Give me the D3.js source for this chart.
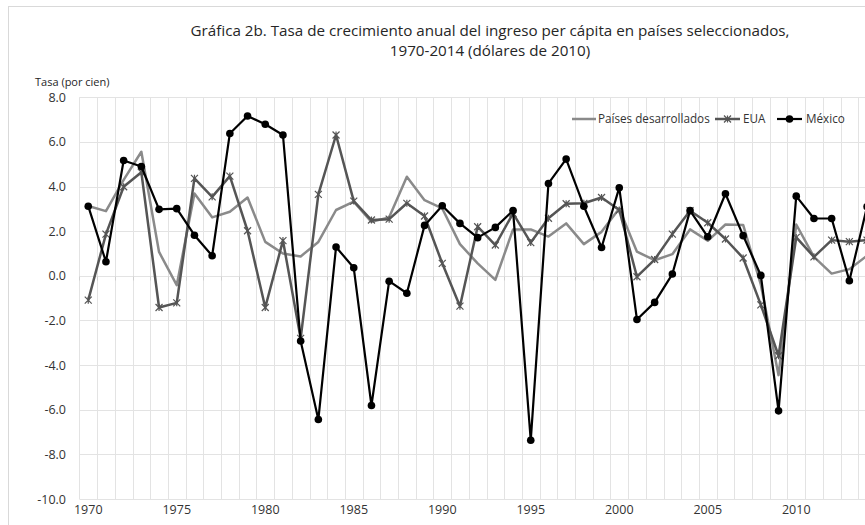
<!DOCTYPE html>
<html>
<head>
<meta charset="utf-8">
<script src="https://cdn.jsdelivr.net/npm/d3@7/dist/d3.min.js"></script>
<style>
  body { margin: 0; background: #fff; }
  svg { display: block; }
</style>
</head>
<body>
<div id="chart"></div>
<script>
var years = d3.range(1970, 2015);

var desarrollados = [3.13, 2.9, 4.3, 5.56, 1.07, -0.42, 3.69, 2.62, 2.87, 3.51,
    1.52, 1.0, 0.87, 1.52, 2.95, 3.32, 2.42, 2.62, 4.44, 3.39,
    3.02, 1.42, 0.56, -0.18, 2.08, 2.08, 1.76, 2.35, 1.42, 1.97,
    3.02, 1.08, 0.7, 0.97, 2.08, 1.57, 2.3, 2.28, -0.4, -4.45,
    2.3, 0.85, 0.1, 0.3, 0.9];

var eua = [-1.09, 1.87, 3.99, 4.64, -1.42, -1.21, 4.37, 3.54, 4.47, 2.02,
    -1.42, 1.58, -2.8, 3.65, 6.31, 3.35, 2.5, 2.54, 3.25, 2.68,
    0.56, -1.36, 2.2, 1.38, 2.8, 1.49, 2.58, 3.23, 3.25, 3.51,
    2.95, -0.04, 0.73, 1.87, 2.92, 2.38, 1.65, 0.8, -1.3, -3.58,
    1.72, 0.85, 1.6, 1.53, 1.6];

var mexico = [3.12, 0.63, 5.17, 4.9, 2.98, 3.01, 1.82, 0.9, 6.38, 7.16,
    6.79, 6.31, -2.92, -6.44, 1.29, 0.36, -5.81, -0.24, -0.78, 2.26,
    3.14, 2.35, 1.71, 2.17, 2.92, -7.37, 4.14, 5.23, 3.12, 1.27,
    3.95, -1.96, -1.19, 0.08, 2.92, 1.75, 3.68, 1.8, 0.02, -6.05,
    3.57, 2.57, 2.57, -0.22, 3.1];

var yTicks = d3.range(-10, 8.1, 2);
var xLabels = [1970, 1975, 1980, 1985, 1990, 1995, 2000, 2005, 2010];

var width = 865, height = 525;
var svg = d3.select('#chart').append('svg')
    .attr('width', width)
    .attr('height', height)
    .style('font-family', "'Open Sans', sans-serif");

// outer frame
svg.append('rect')
    .attr('x', 8.5).attr('y', 6.5)
    .attr('width', 900).attr('height', 540)
    .attr('fill', 'none')
    .attr('stroke', '#d9d9d9');

var plotLeft = 79.4, step = 17.7;
var x = d3.scaleBand()
    .domain(years)
    .range([plotLeft, plotLeft + years.length * step]);
var y = d3.scaleLinear().domain([-10, 8]).range([499, 97.3]);
var cx = function(yr){ return x(yr) + x.bandwidth() / 2; };

// horizontal grid
svg.append('g').selectAll('line')
    .data(yTicks).enter().append('line')
    .attr('x1', x.range()[0]).attr('x2', x.range()[1])
    .attr('y1', function(d){ return Math.round(y(d)) + 0.5; })
    .attr('y2', function(d){ return Math.round(y(d)) + 0.5; })
    .attr('stroke', '#e3e3e3');

// vertical grid at category boundaries
var bounds = years.map(function(d){ return x(d); }).concat([x.range()[1]]);
svg.append('g').selectAll('line')
    .data(bounds).enter().append('line')
    .attr('x1', function(d){ return Math.round(d) + 0.5; })
    .attr('x2', function(d){ return Math.round(d) + 0.5; })
    .attr('y1', y(8)).attr('y2', y(-10))
    .attr('stroke', '#e3e3e3');

// small ticks on the zero line
svg.append('g').selectAll('line')
    .data(bounds).enter().append('line')
    .attr('x1', function(d){ return Math.round(d) + 0.5; })
    .attr('x2', function(d){ return Math.round(d) + 0.5; })
    .attr('y1', Math.round(y(0)) + 0.5).attr('y2', Math.round(y(0)) + 4.5)
    .attr('stroke', '#cfcfcf');

// y tick labels
svg.append('g').selectAll('text')
    .data(yTicks).enter().append('text')
    .attr('x', 66)
    .attr('y', function(d){ return y(d) + 4.5; })
    .attr('text-anchor', 'end')
    .attr('font-size', '12.5px')
    .attr('fill', '#333')
    .text(function(d){ return d.toFixed(1); });

// x labels
svg.append('g').selectAll('text')
    .data(xLabels).enter().append('text')
    .attr('x', function(d){ return cx(d); })
    .attr('y', 514)
    .attr('text-anchor', 'middle')
    .attr('font-size', '12.5px')
    .attr('fill', '#333')
    .text(function(d){ return d; });

// titles
svg.append('text')
    .attr('x', 490).attr('y', 36)
    .attr('text-anchor', 'middle')
    .attr('font-size', '15.2px')
    .attr('fill', '#262626')
    .text('Gráfica 2b. Tasa de crecimiento anual del ingreso per cápita en países seleccionados,');
svg.append('text')
    .attr('x', 490).attr('y', 56)
    .attr('text-anchor', 'middle')
    .attr('font-size', '15.2px')
    .attr('fill', '#262626')
    .text('1970-2014 (dólares de 2010)');
svg.append('text')
    .attr('x', 35).attr('y', 86)
    .attr('font-size', '11px')
    .attr('fill', '#262626')
    .text('Tasa (por cien)');

var line = d3.line()
    .x(function(d, i){ return cx(years[i]); })
    .y(function(d){ return y(d); });

var plot = svg.append('g');

// Países desarrollados
plot.append('path')
    .datum(desarrollados)
    .attr('d', line)
    .attr('fill', 'none')
    .attr('stroke', '#8a8a8a')
    .attr('stroke-width', 2.5)
    .attr('stroke-linejoin', 'round');

// EUA
function star(g, px, py, col){
    var s = 3.5;
    g.append('path')
        .attr('d', 'M' + (px - s) + ',' + (py - s) + 'L' + (px + s) + ',' + (py + s) +
            'M' + (px - s) + ',' + (py + s) + 'L' + (px + s) + ',' + (py - s) +
            'M' + px + ',' + (py - s) + 'L' + px + ',' + (py + s))
        .attr('stroke', col)
        .attr('stroke-width', 1.2)
        .attr('fill', 'none');
}
plot.append('path')
    .datum(eua)
    .attr('d', line)
    .attr('fill', 'none')
    .attr('stroke', '#555555')
    .attr('stroke-width', 2.5)
    .attr('stroke-linejoin', 'round');
var euaMarks = plot.append('g');
eua.forEach(function(d, i){ star(euaMarks, cx(years[i]), y(d), '#555555'); });

// México
plot.append('path')
    .datum(mexico)
    .attr('d', line)
    .attr('fill', 'none')
    .attr('stroke', '#000')
    .attr('stroke-width', 2.2)
    .attr('stroke-linejoin', 'round');
plot.append('g').selectAll('circle')
    .data(mexico).enter().append('circle')
    .attr('cx', function(d, i){ return cx(years[i]); })
    .attr('cy', function(d){ return y(d); })
    .attr('r', 3.8)
    .attr('fill', '#000');

// legend
var legendY = 119;
var lg = svg.append('g');
lg.append('line').attr('x1', 572).attr('x2', 596).attr('y1', legendY).attr('y2', legendY)
    .attr('stroke', '#8a8a8a').attr('stroke-width', 2.5);
lg.append('text').attr('x', 598).attr('y', legendY + 4)
    .attr('font-size', '11.7px').attr('fill', '#333').text('Países desarrollados');
lg.append('line').attr('x1', 715).attr('x2', 740).attr('y1', legendY).attr('y2', legendY)
    .attr('stroke', '#555555').attr('stroke-width', 2.5);
star(lg, 727.5, legendY, '#555555');
lg.append('text').attr('x', 743).attr('y', legendY + 4)
    .attr('font-size', '11.7px').attr('fill', '#333').text('EUA');
lg.append('line').attr('x1', 777).attr('x2', 802).attr('y1', legendY).attr('y2', legendY)
    .attr('stroke', '#000').attr('stroke-width', 2.2);
lg.append('circle').attr('cx', 789.5).attr('cy', legendY).attr('r', 3.8).attr('fill', '#000');
lg.append('text').attr('x', 806).attr('y', legendY + 4)
    .attr('font-size', '11.7px').attr('fill', '#333').text('México');
</script>
</body>
</html>
